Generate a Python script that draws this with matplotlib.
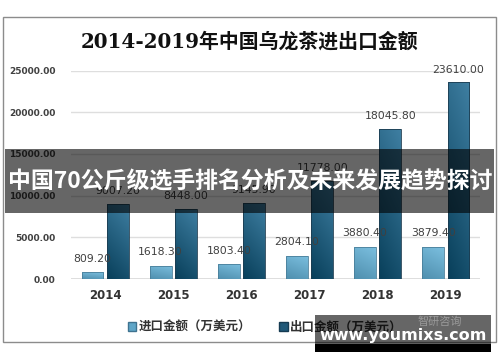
import matplotlib
matplotlib.use("Agg")
import matplotlib.pyplot as plt
import numpy as np
from matplotlib.patches import Rectangle, Patch

plt.rcParams['font.family'] = ['Noto Sans CJK SC', 'DejaVu Sans']

years = ['2014', '2015', '2016', '2017', '2018', '2019']
imports = [809.20, 1618.30, 1803.40, 2804.10, 3880.40, 3879.40]
exports = [9007.20, 8448.00, 9145.90, 11778.00, 18045.80, 23610.00]
yticks = [0, 5000, 10000, 15000, 20000, 25000]
title = '2014-2019年中国乌龙茶进出口金额'
legend_labels = ['进口金额（万美元）', '出口金额（万美元）']
banner = '中国70公斤级选手排名分析及未来发展趋势探讨'

fig = plt.figure(figsize=(5, 3.62), dpi=100)
ax = fig.add_axes([0.142, 0.229, 0.818, 0.576])

# frame around chart
fig.patches.append(Rectangle((0.006, 0.055), 0.986, 0.898, transform=fig.transFigure,
                             fill=False, edgecolor='#8c8c8c', linewidth=1.0, zorder=0))

x = np.arange(len(years))
w = 0.32
off = 0.185

def grad_bars(bars, top, bottom):
    for b in bars:
        bx, by, bw, bh = b.get_x(), b.get_y(), b.get_width(), b.get_height()
        n = 64
        t = np.linspace(0, 1, n)
        xx, yy = np.meshgrid(t, t)
        m = np.clip(0.75 * yy + 0.25 * xx, 0, 1)
        top_c = np.array(matplotlib.colors.to_rgb(top))
        bot_c = np.array(matplotlib.colors.to_rgb(bottom))
        img = bot_c[None, None, :] * (1 - m[..., None]) + top_c[None, None, :] * m[..., None]
        im = ax.imshow(img, extent=[bx, bx + bw, by, by + bh], origin='lower',
                       aspect='auto', zorder=2, interpolation='bilinear')
        im.set_clip_path(b)
        b.set_facecolor('none')

b1 = ax.bar(x - off, imports, w, color='#6aaed0', edgecolor='#4a7f9a', linewidth=0.6, zorder=3)
b2 = ax.bar(x + off, exports, w, color='#2a6386', edgecolor='#1c3c50', linewidth=0.6, zorder=3)
grad_bars(b1, '#7cc0e0', '#4f8fae')
grad_bars(b2, '#3f7fa2', '#083f5a')

for xi, v in zip(x, imports):
    ax.text(xi - off, v + 1000, f'{v:.2f}', ha='center', va='bottom', fontsize=7.8,
            color='#404040', family=['DejaVu Sans'], zorder=4)
for xi, v in zip(x, exports):
    ax.text(xi + off, v + 900, f'{v:.2f}', ha='center', va='bottom', fontsize=7.8,
            color='#404040', family=['DejaVu Sans'], zorder=4)

ax.set_xlim(-0.5, len(years) - 0.5)
ax.set_ylim(0, 25000)
ax.set_yticks(yticks)
ax.set_yticklabels([f'{t:.2f}' for t in yticks], fontsize=6.5, color='#404040',
                   fontweight='bold', family=['DejaVu Sans'])
ax.set_xticks(x)
ax.set_xticklabels(years, fontsize=8.5, fontweight='bold', color='#333333', family=['DejaVu Sans'])
ax.tick_params(axis='both', length=0)
ax.tick_params(axis='y', pad=11)
ax.tick_params(axis='x', pad=7)
ax.grid(axis='y', color='#dedede', linewidth=1.0, zorder=0)
ax.set_axisbelow(True)
for s in ax.spines.values():
    s.set_visible(False)
ax.axhline(0, color='#d9d9d9', linewidth=1.2, zorder=1)

fig.text(0.5, 0.884, title, ha='center', va='center', fontsize=14.3, color='#111111',
         fontweight='bold', family=['DejaVu Serif', 'Noto Sans CJK SC'])

# legend
handles = [Patch(facecolor='#5fa6c8', edgecolor='#3f7390'),
           Patch(facecolor='#1f5878', edgecolor='#153b52')]
leg = fig.legend(handles, legend_labels, loc='center', bbox_to_anchor=(0.53, 0.095),
                 ncol=2, frameon=False, fontsize=9, handlelength=0.7, handleheight=0.7,
                 handletextpad=0.2, columnspacing=2.2)
for t in leg.get_texts():
    t.set_fontweight('bold')
    t.set_color('#333333')

# overlay banner
fig.patches.append(Rectangle((0.01, 0.412), 0.978, 0.177, transform=fig.transFigure,
                             facecolor='black', alpha=0.6, edgecolor='none', zorder=10))
fig.text(0.5, 0.497, banner, ha='center', va='center', fontsize=16.5, fontweight='bold',
         color='white', zorder=11)

# watermark
fig.patches.append(Rectangle((0.63, 0.047), 0.352, 0.083, transform=fig.transFigure,
                             facecolor='black', alpha=0.6, edgecolor='none', zorder=10))
fig.patches.append(Rectangle((0.63, 0.028), 0.352, 0.021, transform=fig.transFigure,
                             facecolor='black', edgecolor='none', zorder=10))
fig.text(0.88, 0.112, '智研咨询', ha='center', va='center', fontsize=8, color='#9a9a9a', zorder=11)
fig.text(0.806, 0.072, 'www.youmixs.com', ha='center', va='center', fontsize=11.5,
         fontweight='bold', color='white', family=['DejaVu Sans'], zorder=11)

fig.savefig('out.png', dpi=100)
